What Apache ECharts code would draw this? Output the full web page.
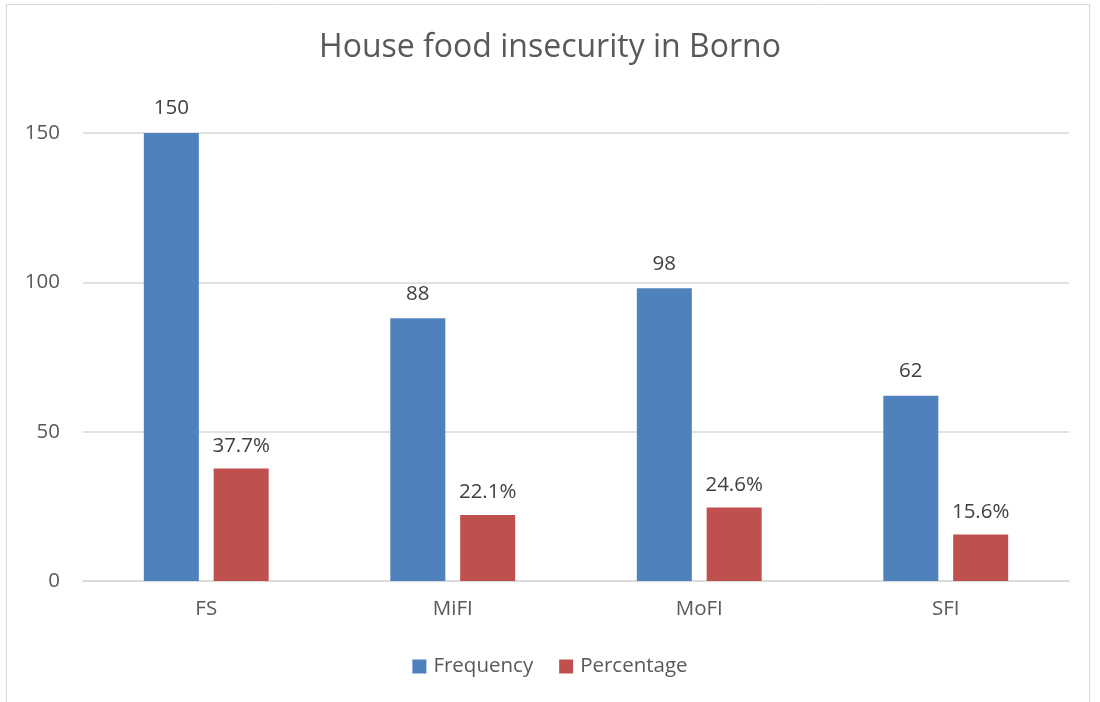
<!DOCTYPE html>
<html>
<head>
<meta charset="utf-8">
<title>House food insecurity in Borno</title>
<script src="https://cdn.jsdelivr.net/npm/echarts@6/dist/echarts.min.js"></script>
<style>
  html, body { margin: 0; padding: 0; background: #fff; }
  #chart { width: 1100px; height: 702px; }
</style>
</head>
<body>
<div id="chart"></div>
<script>
// Household food security status, Borno
const categories = ['FS', 'MiFI', 'MoFI', 'SFI'];
const frequency = [150, 88, 98, 62];
const percentage = [37.7, 22.1, 24.6, 15.6];
const yTicks = { min: 0, max: 150, interval: 50 };

const FONT = '"Open Sans", "Noto Sans", sans-serif';
const LABEL_SIZE = 20.5;
const chart = echarts.init(document.getElementById('chart'), null, { renderer: 'canvas' });

chart.setOption({
  backgroundColor: '#ffffff',
  animation: false,
  textStyle: { fontFamily: FONT },
  graphic: [{
    type: 'rect',
    silent: true,
    shape: { x: 6.5, y: 4.5, width: 1083, height: 760 },
    style: { fill: 'none', stroke: '#d9d9d9', lineWidth: 1 }
  }],
  title: {
    text: 'House food insecurity in Borno',
    left: 'center',
    top: 27,
    textStyle: { fontFamily: FONT, fontSize: 32, fontWeight: 'normal', color: '#595959' }
  },
  legend: {
    bottom: 20,
    left: 'center',
    itemWidth: 14,
    itemHeight: 14,
    itemGap: 26,
    icon: 'rect',
    textStyle: { fontFamily: FONT, fontSize: LABEL_SIZE, color: '#595959', padding: [0, 0, 0, 2] },
    data: ['Frequency', 'Percentage']
  },
  grid: { left: 83, right: 31, top: 133, bottom: 121, containLabel: false },
  xAxis: {
    type: 'category',
    data: categories,
    axisLine: { lineStyle: { color: '#d9d9d9', width: 1.5 } },
    axisTick: { show: false },
    axisLabel: { fontFamily: FONT, fontSize: LABEL_SIZE, color: '#595959', margin: 18 }
  },
  yAxis: {
    type: 'value',
    min: yTicks.min,
    max: yTicks.max,
    interval: yTicks.interval,
    axisLine: { show: false },
    axisTick: { show: false },
    splitLine: { lineStyle: { color: '#d9d9d9', width: 1.5 } },
    axisLabel: { fontFamily: FONT, fontSize: LABEL_SIZE, color: '#595959', margin: 23 }
  },
  series: [
    {
      name: 'Frequency',
      type: 'bar',
      data: frequency,
      barWidth: 55,
      barGap: '27%',
      itemStyle: { color: '#4f81bd' },
      label: {
        show: true, position: 'top', distance: 14,
        fontFamily: FONT, fontSize: LABEL_SIZE, color: '#404040'
      }
    },
    {
      name: 'Percentage',
      type: 'bar',
      data: percentage,
      barWidth: 55,
      itemStyle: { color: '#c0504d' },
      label: {
        show: true, position: 'top', distance: 12,
        fontFamily: FONT, fontSize: LABEL_SIZE, color: '#404040',
        formatter: p => p.value.toFixed(1) + '%'
      }
    }
  ]
});
</script>
</body>
</html>
